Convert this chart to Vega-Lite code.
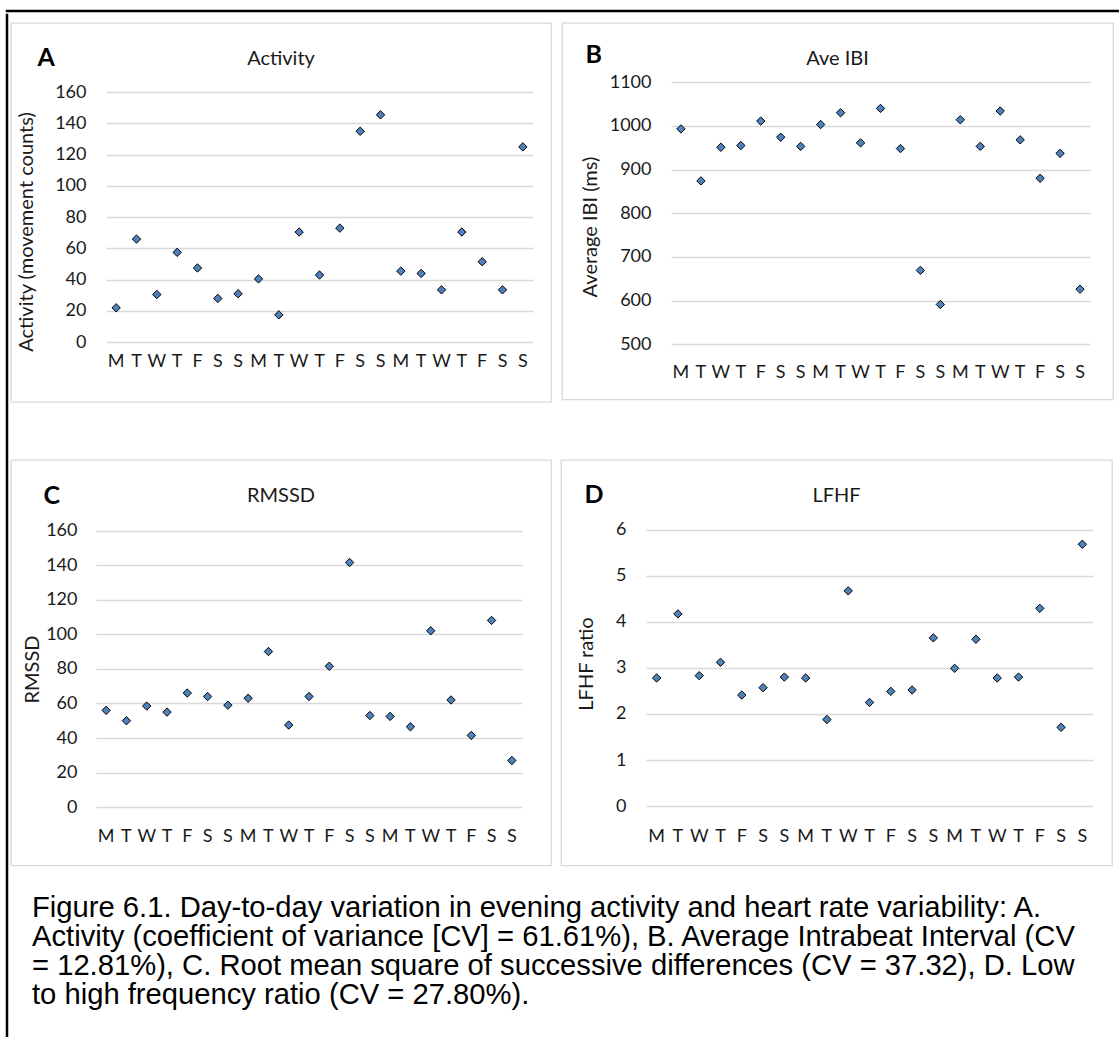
{
  "$schema": "https://vega.github.io/schema/vega-lite/v6.json",
  "padding": {"left": 5, "top": 9, "right": 0, "bottom": 0},
  "background": "white",
  "data": {"values": [
    {"day": "M1", "activity": 22, "ibi": 993, "rmssd": 56, "lfhf": 2.78},
    {"day": "T2", "activity": 66, "ibi": 874, "rmssd": 50, "lfhf": 4.17},
    {"day": "W3", "activity": 30.5, "ibi": 951, "rmssd": 58.5, "lfhf": 2.83},
    {"day": "T4", "activity": 57.5, "ibi": 955, "rmssd": 55, "lfhf": 3.12},
    {"day": "F5", "activity": 47.5, "ibi": 1011, "rmssd": 66, "lfhf": 2.41},
    {"day": "S6", "activity": 28, "ibi": 974, "rmssd": 64, "lfhf": 2.57},
    {"day": "S7", "activity": 31, "ibi": 953, "rmssd": 59, "lfhf": 2.8},
    {"day": "M8", "activity": 40.5, "ibi": 1003, "rmssd": 63, "lfhf": 2.78},
    {"day": "T9", "activity": 17.5, "ibi": 1030, "rmssd": 90, "lfhf": 1.88},
    {"day": "W10", "activity": 70.5, "ibi": 961, "rmssd": 47.5, "lfhf": 4.67},
    {"day": "T11", "activity": 43, "ibi": 1040, "rmssd": 64, "lfhf": 2.25},
    {"day": "F12", "activity": 73, "ibi": 948, "rmssd": 81.5, "lfhf": 2.49},
    {"day": "S13", "activity": 135, "ibi": 669, "rmssd": 141.5, "lfhf": 2.52},
    {"day": "S14", "activity": 145.5, "ibi": 591, "rmssd": 53, "lfhf": 3.65},
    {"day": "M15", "activity": 45.5, "ibi": 1014, "rmssd": 52.5, "lfhf": 2.99},
    {"day": "T16", "activity": 44, "ibi": 953, "rmssd": 46.5, "lfhf": 3.62},
    {"day": "W17", "activity": 33.5, "ibi": 1034, "rmssd": 102, "lfhf": 2.78},
    {"day": "T18", "activity": 70.5, "ibi": 968, "rmssd": 62, "lfhf": 2.8},
    {"day": "F19", "activity": 51.5, "ibi": 880, "rmssd": 41.5, "lfhf": 4.29},
    {"day": "S20", "activity": 33.5, "ibi": 937, "rmssd": 108, "lfhf": 1.71},
    {"day": "S21", "activity": 125, "ibi": 626, "rmssd": 27, "lfhf": 5.68}
  ]},
  "config": {
    "view": {"stroke": "#d9d9d9", "strokeWidth": 1.3},
    "axis": {
      "labelFont": "Lato", "labelFontSize": 18, "labelColor": "#1a1a1a",
      "titleFont": "Lato", "titleFontSize": 20, "titleFontWeight": "normal", "titleColor": "#1a1a1a",
      "domain": false, "ticks": false, "gridColor": "#d9d9d9", "gridWidth": 1.3
    },
    "title": {"font": "Lato", "fontSize": 20, "fontWeight": "normal", "color": "#1a1a1a"}
  },
  "spacing": 0,
  "vconcat": [
    {"data": {"values": []}, "mark": "point", "width": 1114, "height": 0.01, "view": {"stroke": "black", "strokeWidth": 2.5}},
    {"spacing": 1, "hconcat": [
      {"data": {"values": []}, "mark": "point", "width": 0.01, "height": 1026, "view": {"stroke": "black", "strokeWidth": 2.5}},
      {"spacing": 6, "vconcat": [
        {"data": {"values": []}, "mark": "point", "width": 10, "height": 0.01, "view": {"stroke": null}},
        {"spacing": 56, "vconcat": [
          {"spacing": 9, "hconcat": [
            {
              "width": 540, "height": 379,
              "title": {"text": "Activity", "frame": "group", "anchor": "middle", "offset": -46},
              "layer": [
                {"mark": {"type": "point", "shape": "diamond", "filled": true, "size": 70, "color": "#4f81bd", "stroke": "#000000", "strokeWidth": 1, "opacity": 1},
                 "encoding": {
                   "x": {"field": "day", "type": "ordinal", "sort": null,
                         "scale": {"type": "band", "range": [95, 522], "paddingInner": 0, "paddingOuter": 0},
                         "axis": {"orient": "bottom", "offset": -59.8, "labelPadding": 10, "labelAngle": 0, "labelExpr": "substring(datum.value, 0, 1)", "title": null, "grid": false}},
                   "y": {"field": "activity", "type": "quantitative",
                         "scale": {"domain": [0, 160], "range": [319.2, 69.2], "nice": false, "zero": false},
                         "axis": {"orient": "left", "offset": -95, "labelPadding": 20, "format": "d", "values": [0, 20, 40, 60, 80, 100, 120, 140, 160], "grid": true, "title": "Activity (movement counts)", "titleX": -70, "titleY": 208.5}}
                 }},
                {"mark": {"type": "text", "text": ""},
                 "encoding": {"x": {"field": "day", "type": "ordinal", "sort": null,
                   "axis": {"orient": "top", "labels": false, "grid": false, "title": "A", "titleFontWeight": "bold", "titleFontSize": 25, "titleColor": "#000000", "titleX": 26, "titleY": 42, "titleAlign": "left", "titleBaseline": "alphabetic", "titleAngle": 0}}}}
              ],
              "resolve": {"axis": {"x": "independent"}}
            },
            {
              "width": 551, "height": 376.5,
              "title": {"text": "Ave IBI", "frame": "group", "anchor": "middle", "offset": -46},
              "layer": [
                {"mark": {"type": "point", "shape": "diamond", "filled": true, "size": 70, "color": "#4f81bd", "stroke": "#000000", "strokeWidth": 1, "opacity": 1},
                 "encoding": {
                   "x": {"field": "day", "type": "ordinal", "sort": null,
                         "scale": {"type": "band", "range": [109, 528], "paddingInner": 0, "paddingOuter": 0},
                         "axis": {"orient": "bottom", "offset": -55.3, "labelPadding": 19.5, "labelAngle": 0, "labelExpr": "substring(datum.value, 0, 1)", "title": null, "grid": false}},
                   "y": {"field": "ibi", "type": "quantitative",
                         "scale": {"domain": [500, 1100], "range": [321.2, 59.2], "nice": false, "zero": false},
                         "axis": {"orient": "left", "offset": -109, "labelPadding": 20, "format": "d", "values": [500, 600, 700, 800, 900, 1000, 1100], "grid": true, "title": "Average IBI (ms)", "titleX": -71, "titleY": 203.5}}
                 }},
                {"mark": {"type": "text", "text": ""},
                 "encoding": {"x": {"field": "day", "type": "ordinal", "sort": null,
                   "axis": {"orient": "top", "labels": false, "grid": false, "title": "B", "titleFontWeight": "bold", "titleFontSize": 25, "titleColor": "#000000", "titleX": 23, "titleY": 39, "titleAlign": "left", "titleBaseline": "alphabetic", "titleAngle": 0}}}}
              ],
              "resolve": {"axis": {"x": "independent"}}
            }
          ]},
          {"spacing": 26, "vconcat": [
            {"spacing": 8, "hconcat": [
              {
                "width": 540, "height": 405.5,
                "title": {"text": "RMSSD", "frame": "group", "anchor": "middle", "offset": -46},
                "layer": [
                  {"mark": {"type": "point", "shape": "diamond", "filled": true, "size": 70, "color": "#4f81bd", "stroke": "#000000", "strokeWidth": 1, "opacity": 1},
                   "encoding": {
                     "x": {"field": "day", "type": "ordinal", "sort": null,
                           "scale": {"type": "band", "range": [85, 511], "paddingInner": 0, "paddingOuter": 0},
                           "axis": {"orient": "bottom", "offset": -58.3, "labelPadding": 20, "labelAngle": 0, "labelExpr": "substring(datum.value, 0, 1)", "title": null, "grid": false}},
                     "y": {"field": "rmssd", "type": "quantitative",
                           "scale": {"domain": [0, 160], "range": [347.2, 70.5], "nice": false, "zero": false},
                           "axis": {"orient": "left", "offset": -85, "labelPadding": 19, "format": "d", "values": [0, 20, 40, 60, 80, 100, 120, 140, 160], "grid": true, "title": "RMSSD", "titleX": -54, "titleY": 209}}
                   }},
                  {"mark": {"type": "text", "text": ""},
                   "encoding": {"x": {"field": "day", "type": "ordinal", "sort": null,
                     "axis": {"orient": "top", "labels": false, "grid": false, "title": "C", "titleFontWeight": "bold", "titleFontSize": 25, "titleColor": "#000000", "titleX": 32, "titleY": 43.5, "titleAlign": "left", "titleBaseline": "alphabetic", "titleAngle": 0}}}}
                ],
                "resolve": {"axis": {"x": "independent"}}
              },
              {
                "width": 551, "height": 405.5,
                "title": {"text": "LFHF", "frame": "group", "anchor": "middle", "offset": -46},
                "layer": [
                  {"mark": {"type": "point", "shape": "diamond", "filled": true, "size": 70, "color": "#4f81bd", "stroke": "#000000", "strokeWidth": 1, "opacity": 1},
                   "encoding": {
                     "x": {"field": "day", "type": "ordinal", "sort": null,
                           "scale": {"type": "band", "range": [85, 532], "paddingInner": 0, "paddingOuter": 0},
                           "axis": {"orient": "bottom", "offset": -59.3, "labelPadding": 21, "labelAngle": 0, "labelExpr": "substring(datum.value, 0, 1)", "title": null, "grid": false}},
                     "y": {"field": "lfhf", "type": "quantitative",
                           "scale": {"domain": [0, 6], "range": [346.2, 69.5], "nice": false, "zero": false},
                           "axis": {"orient": "left", "offset": -85, "labelPadding": 20, "format": "d", "values": [0, 1, 2, 3, 4, 5, 6], "grid": true, "title": "LFHF ratio", "titleX": -50, "titleY": 203.5}}
                   }},
                  {"mark": {"type": "text", "text": ""},
                   "encoding": {"x": {"field": "day", "type": "ordinal", "sort": null,
                     "axis": {"orient": "top", "labels": false, "grid": false, "title": "D", "titleFontWeight": "bold", "titleFontSize": 25, "titleColor": "#000000", "titleX": 23, "titleY": 42, "titleAlign": "left", "titleBaseline": "alphabetic", "titleAngle": 0}}}}
                ],
                "resolve": {"axis": {"x": "independent"}}
              }
            ]},
            {"data": {"values": []}, "mark": "point", "width": 1080, "height": 0.01, "view": {"stroke": null},
             "title": {"text": [
               "Figure 6.1. Day-to-day variation in evening activity and heart rate variability:  A.",
               "Activity (coefficient of variance [CV] = 61.61%), B. Average Intrabeat Interval (CV",
               "= 12.81%), C. Root mean square of successive differences (CV = 37.32), D. Low",
               "to high frequency ratio (CV = 27.80%)."
             ], "anchor": "start", "frame": "group", "orient": "top", "offset": 0, "dx": 21,
               "font": "Liberation Sans", "fontSize": 29.2, "fontWeight": "normal", "lineHeight": 29, "color": "#000000"}}
          ]}
        ]}
      ]}
    ]}
  ]
}
